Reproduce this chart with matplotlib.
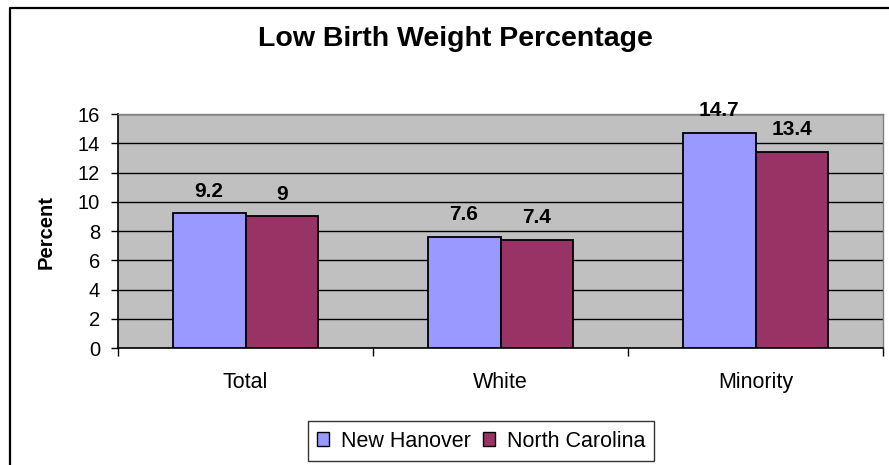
import matplotlib
matplotlib.use("Agg")
import matplotlib.pyplot as plt
import numpy as np
from matplotlib.lines import Line2D
from matplotlib.patches import Patch

plt.rcParams['font.family'] = ['Liberation Sans', 'DejaVu Sans']

categories = ["Total", "White", "Minority"]
series_names = ["New Hanover", "North Carolina"]
new_hanover = [9.2, 7.6, 14.7]
north_carolina = [9, 7.4, 13.4]
value_labels_nh = ["9.2", "7.6", "14.7"]
value_labels_nc = ["9", "7.4", "13.4"]
colors = ["#9999FF", "#993366"]

W, H = 889, 465
fig = plt.figure(figsize=(W/100, H/100), dpi=100)
ax = fig.add_axes([118/W, 1-348/H, (883-118)/W, (348-114)/H])
ax.set_facecolor("#C0C0C0")

x = np.arange(len(categories))
bw = 0.286
b1 = ax.bar(x - bw/2, new_hanover, bw, color=colors[0], edgecolor="black", linewidth=1.3, zorder=3)
b2 = ax.bar(x + bw/2, north_carolina, bw, color=colors[1], edgecolor="black", linewidth=1.3, zorder=3)

for bars, labs in ((b1, value_labels_nh), (b2, value_labels_nc)):
    for r, lab in zip(bars, labs):
        ax.annotate(lab, (r.get_x() + r.get_width()/2, r.get_height()),
                    xytext=(0, 12), textcoords="offset points",
                    ha="center", va="baseline", fontsize=15, fontweight="bold")

ax.set_xlim(-0.5, 2.5)
ax.set_ylim(0, 16)
ax.set_yticks(np.arange(0, 17, 2))
ax.yaxis.grid(True, color="black", linewidth=1.0, zorder=0)
ax.set_axisbelow(True)
ax.tick_params(axis="y", direction="out", length=5, width=1, labelsize=14.5, pad=8)
ax.set_xticks(x)
ax.set_xticklabels(categories, fontsize=15.5)
ax.tick_params(axis="x", which="major", length=0, pad=17)
ax.set_xticks([-0.5, 0.5, 1.5, 2.5], minor=True)
ax.tick_params(axis="x", which="minor", length=6, width=1, direction="out")

for s in ("left", "bottom"):
    ax.spines[s].set_color("black")
    ax.spines[s].set_linewidth(1.2)
for s in ("top", "right"):
    ax.spines[s].set_color("#808080")
    ax.spines[s].set_linewidth(1.0)

fig.text(46/W, 1-232/H, "Percent", ha="center", va="center", rotation=90,
         fontsize=14.5, fontweight="bold")

fig.text(455/W, 1-45.5/H, "Low Birth Weight Percentage", ha="center", va="baseline",
         fontsize=20.5, fontweight="bold")

handles = [Patch(facecolor=colors[0], edgecolor="black"), Patch(facecolor=colors[1], edgecolor="black")]
leg = fig.legend(handles, series_names, loc="center", bbox_to_anchor=(481/W, 1-441/H),
                 ncol=2, fontsize=15.5, frameon=True, fancybox=False, edgecolor="black",
                 handlelength=0.58, handleheight=0.58, handletextpad=0.55, columnspacing=0.55,
                 borderpad=0.42, borderaxespad=0)
leg.get_frame().set_linewidth(1.0)

fig.add_artist(Line2D([10/W, 10/W, 1.0], [0.0, 1-8/H, 1-8/H], transform=fig.transFigure,
                      color="black", linewidth=1.6))

fig.savefig("out.png", dpi=100)
